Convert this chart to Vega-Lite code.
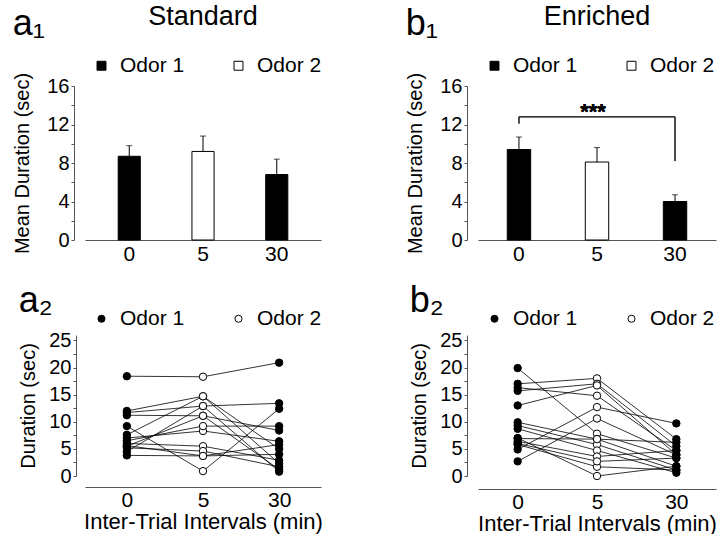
{
  "$schema": "https://vega.github.io/schema/vega-lite/v6.json",
  "background": "white",
  "padding": {"left": 12, "top": 3, "right": 2, "bottom": 0},
  "config": {
    "font": "Liberation Sans",
    "view": {"stroke": null},
    "axis": {"labelFontSize": 20, "titleFontSize": 20, "titleFontWeight": "normal", "labelColor": "black", "titleColor": "black", "domainColor": "#555", "tickColor": "#555", "grid": false, "labelFont": "Liberation Sans", "titleFont": "Liberation Sans", "labelOverlap": false},
    "legend": {"labelFontSize": 21, "labelColor": "black", "labelFont": "Liberation Sans", "orient": "top", "direction": "horizontal", "columnPadding": 43, "labelOffset": 8, "padding": 6, "symbolStrokeColor": "black", "symbolStrokeWidth": 1},
    "title": {"font": "Liberation Sans", "fontWeight": "normal", "color": "black"}
  },
  "datasets": {
    "barStd": [
      {"t": "0", "m": 8.7, "u": 9.8, "o": "Odor 1"},
      {"t": "5", "m": 9.2, "u": 10.8, "o": "Odor 2"},
      {"t": "30", "m": 6.8, "u": 8.4, "o": "Odor 1"}
    ],
    "barEnr": [
      {"t": "0", "m": 9.4, "u": 10.7, "o": "Odor 1"},
      {"t": "5", "m": 8.1, "u": 9.6, "o": "Odor 2"},
      {"t": "30", "m": 4.0, "u": 4.7, "o": "Odor 1"}
    ],
    "std": [
      {"s": 1, "t": "0", "d": 18.4, "o": "Odor 1"}, {"s": 1, "t": "5", "d": 18.3, "o": "Odor 2"}, {"s": 1, "t": "30", "d": 20.9, "o": "Odor 1"},
      {"s": 2, "t": "0", "d": 12.0, "o": "Odor 1"}, {"s": 2, "t": "5", "d": 14.7, "o": "Odor 2"}, {"s": 2, "t": "30", "d": 5.0, "o": "Odor 1"},
      {"s": 3, "t": "0", "d": 11.7, "o": "Odor 1"}, {"s": 3, "t": "5", "d": 12.9, "o": "Odor 2"}, {"s": 3, "t": "30", "d": 13.4, "o": "Odor 1"},
      {"s": 4, "t": "0", "d": 11.2, "o": "Odor 1"}, {"s": 4, "t": "5", "d": 11.1, "o": "Odor 2"}, {"s": 4, "t": "30", "d": 8.4, "o": "Odor 1"},
      {"s": 5, "t": "0", "d": 9.2, "o": "Odor 1"}, {"s": 5, "t": "5", "d": 0.9, "o": "Odor 2"}, {"s": 5, "t": "30", "d": 12.4, "o": "Odor 1"},
      {"s": 6, "t": "0", "d": 7.6, "o": "Odor 1"}, {"s": 6, "t": "5", "d": 14.7, "o": "Odor 2"}, {"s": 6, "t": "30", "d": 2.3, "o": "Odor 1"},
      {"s": 7, "t": "0", "d": 7.0, "o": "Odor 1"}, {"s": 7, "t": "5", "d": 8.3, "o": "Odor 2"}, {"s": 7, "t": "30", "d": 6.4, "o": "Odor 1"},
      {"s": 8, "t": "0", "d": 6.5, "o": "Odor 1"}, {"s": 8, "t": "5", "d": 9.2, "o": "Odor 2"}, {"s": 8, "t": "30", "d": 9.2, "o": "Odor 1"},
      {"s": 9, "t": "0", "d": 6.0, "o": "Odor 1"}, {"s": 9, "t": "5", "d": 5.5, "o": "Odor 2"}, {"s": 9, "t": "30", "d": 2.9, "o": "Odor 1"},
      {"s": 10, "t": "0", "d": 5.6, "o": "Odor 1"}, {"s": 10, "t": "5", "d": 3.7, "o": "Odor 2"}, {"s": 10, "t": "30", "d": 5.8, "o": "Odor 1"},
      {"s": 11, "t": "0", "d": 5.2, "o": "Odor 1"}, {"s": 11, "t": "5", "d": 4.6, "o": "Odor 2"}, {"s": 11, "t": "30", "d": 1.7, "o": "Odor 1"},
      {"s": 12, "t": "0", "d": 4.5, "o": "Odor 1"}, {"s": 12, "t": "5", "d": 12.9, "o": "Odor 2"}, {"s": 12, "t": "30", "d": 0.8, "o": "Odor 1"},
      {"s": 13, "t": "0", "d": 3.8, "o": "Odor 1"}, {"s": 13, "t": "5", "d": 3.7, "o": "Odor 2"}, {"s": 13, "t": "30", "d": 4.0, "o": "Odor 1"},
      {"s": 14, "t": "0", "d": 5.5, "o": "Odor 1"}, {"s": 14, "t": "5", "d": 11.1, "o": "Odor 2"}, {"s": 14, "t": "30", "d": 1.2, "o": "Odor 1"}
    ],
    "enr": [
      {"s": 1, "t": "0", "d": 19.9, "o": "Odor 1"}, {"s": 1, "t": "5", "d": 7.8, "o": "Odor 2"}, {"s": 1, "t": "30", "d": 3.3, "o": "Odor 1"},
      {"s": 2, "t": "0", "d": 17.0, "o": "Odor 1"}, {"s": 2, "t": "5", "d": 18.0, "o": "Odor 2"}, {"s": 2, "t": "30", "d": 6.8, "o": "Odor 1"},
      {"s": 3, "t": "0", "d": 16.3, "o": "Odor 1"}, {"s": 3, "t": "5", "d": 14.8, "o": "Odor 2"}, {"s": 3, "t": "30", "d": 4.7, "o": "Odor 1"},
      {"s": 4, "t": "0", "d": 15.7, "o": "Odor 1"}, {"s": 4, "t": "5", "d": 17.0, "o": "Odor 2"}, {"s": 4, "t": "30", "d": 5.5, "o": "Odor 1"},
      {"s": 5, "t": "0", "d": 13.0, "o": "Odor 1"}, {"s": 5, "t": "5", "d": 16.7, "o": "Odor 2"}, {"s": 5, "t": "30", "d": 3.9, "o": "Odor 1"},
      {"s": 6, "t": "0", "d": 9.9, "o": "Odor 1"}, {"s": 6, "t": "5", "d": 6.8, "o": "Odor 2"}, {"s": 6, "t": "30", "d": 1.8, "o": "Odor 1"},
      {"s": 7, "t": "0", "d": 9.3, "o": "Odor 1"}, {"s": 7, "t": "5", "d": 5.8, "o": "Odor 2"}, {"s": 7, "t": "30", "d": 1.1, "o": "Odor 1"},
      {"s": 8, "t": "0", "d": 8.7, "o": "Odor 1"}, {"s": 8, "t": "5", "d": 4.7, "o": "Odor 2"}, {"s": 8, "t": "30", "d": 0.6, "o": "Odor 1"},
      {"s": 9, "t": "0", "d": 6.9, "o": "Odor 1"}, {"s": 9, "t": "5", "d": 6.8, "o": "Odor 2"}, {"s": 9, "t": "30", "d": 6.2, "o": "Odor 1"},
      {"s": 10, "t": "0", "d": 6.4, "o": "Odor 1"}, {"s": 10, "t": "5", "d": 3.6, "o": "Odor 2"}, {"s": 10, "t": "30", "d": 4.7, "o": "Odor 1"},
      {"s": 11, "t": "0", "d": 5.8, "o": "Odor 1"}, {"s": 11, "t": "5", "d": 1.7, "o": "Odor 2"}, {"s": 11, "t": "30", "d": 1.1, "o": "Odor 1"},
      {"s": 12, "t": "0", "d": 4.9, "o": "Odor 1"}, {"s": 12, "t": "5", "d": 12.7, "o": "Odor 2"}, {"s": 12, "t": "30", "d": 9.7, "o": "Odor 1"},
      {"s": 13, "t": "0", "d": 2.7, "o": "Odor 1"}, {"s": 13, "t": "5", "d": 10.6, "o": "Odor 2"}, {"s": 13, "t": "30", "d": 3.9, "o": "Odor 1"},
      {"s": 14, "t": "0", "d": 7.0, "o": "Odor 1"}, {"s": 14, "t": "5", "d": 0.0, "o": "Odor 2"}, {"s": 14, "t": "30", "d": 1.8, "o": "Odor 1"},
      {"s": 15, "t": "0", "d": 6.0, "o": "Odor 1"}, {"s": 15, "t": "5", "d": 2.7, "o": "Odor 2"}, {"s": 15, "t": "30", "d": 3.3, "o": "Odor 1"}
    ]
  },
  "resolve": {"scale": {"fill": "independent", "x": "independent", "y": "independent"}, "legend": {"fill": "independent"}},
  "spacing": 77,
  "hconcat": [
    {
      "spacing": 19,
      "resolve": {"scale": {"fill": "independent", "x": "independent", "y": "independent"}, "legend": {"fill": "independent"}},
      "vconcat": [
        {
          "title": {"text": "a₁", "fontSize": 36, "anchor": "start", "frame": "bounds", "offset": -40},
          "resolve": {"scale": {"fill": "independent"}, "legend": {"fill": "independent"}},
          "vconcat": [
            {
              "title": {"text": "Standard", "fontSize": 27, "anchor": "middle", "frame": "group", "offset": 18},
              "width": 236, "height": 154,
              "data": {"name": "barStd"},
              "layer": [
                {
                  "mark": {"type": "bar", "stroke": "black", "strokeWidth": 1},
                  "encoding": {
                    "x": {"field": "t", "type": "nominal", "sort": ["0", "5", "30"], "scale": {"paddingInner": 0.7, "paddingOuter": 0.45}, "axis": {"title": null, "labelAngle": 0, "ticks": false, "labelPadding": 3, "labelFontSize": 21}},
                    "y": {"field": "m", "type": "quantitative", "scale": {"domain": [0, 16]}, "axis": {"title": "Mean Duration (sec)", "values": [0, 2, 4, 6, 8, 10, 12, 14, 16], "tickCount": 20, "labelExpr": "datum.value % 4 == 0 ? datum.label : ''", "offset": 11, "tickSize": 3, "titlePadding": 14}},
                    "fill": {"field": "o", "type": "nominal", "scale": {"domain": ["Odor 1", "Odor 2"], "range": ["black", "white"]}, "legend": {"title": null, "symbolType": "square", "symbolSize": 80, "offset": 4}}
                  }
                },
                {
                  "mark": {"type": "rule", "color": "black", "strokeWidth": 1},
                  "encoding": {"x": {"field": "t", "type": "nominal", "sort": ["0", "5", "30"]}, "y": {"field": "m", "type": "quantitative"}, "y2": {"field": "u"}}
                },
                {
                  "mark": {"type": "tick", "color": "black", "orient": "horizontal", "size": 6, "thickness": 1},
                  "encoding": {"x": {"field": "t", "type": "nominal", "sort": ["0", "5", "30"]}, "y": {"field": "u", "type": "quantitative"}}
                }
              ]
            }
          ]
        },
        {
          "title": {"text": "a₂", "fontSize": 36, "anchor": "start", "frame": "bounds", "offset": -18},
          "width": 236, "height": 141,
          "data": {"name": "std"},
          "layer": [
            {
              "mark": {"type": "line", "color": "black", "strokeWidth": 0.8},
              "encoding": {
                "x": {"field": "t", "type": "nominal", "sort": ["0", "5", "30"], "scale": {"type": "point", "padding": 0.55}, "axis": {"title": "Inter-Trial Intervals (min)", "labelAngle": 0, "ticks": false, "offset": 11, "labelFontSize": 21, "titleFontSize": 22, "titlePadding": 1}},
                "y": {"field": "d", "type": "quantitative", "scale": {"domain": [0, 25]}, "axis": {"title": "Duration (sec)", "values": [0, 2.5, 5, 7.5, 10, 12.5, 15, 17.5, 20, 22.5, 25], "tickCount": 20, "labelExpr": "datum.value % 5 == 0 ? datum.label : ''", "offset": 9, "tickSize": 3, "titlePadding": 10}},
                "detail": {"field": "s", "type": "nominal"}
              }
            },
            {
              "mark": {"type": "point", "shape": "circle", "stroke": "black", "strokeWidth": 1, "opacity": 1, "size": 55},
              "encoding": {
                "x": {"field": "t", "type": "nominal", "sort": ["0", "5", "30"]},
                "y": {"field": "d", "type": "quantitative"},
                "fill": {"field": "o", "type": "nominal", "scale": {"domain": ["Odor 1", "Odor 2"], "range": ["black", "white"]}, "legend": {"title": null, "symbolType": "circle", "symbolSize": 50, "offset": 0}}
              }
            }
          ]
        }
      ]
    },
    {
      "spacing": 19,
      "resolve": {"scale": {"fill": "independent", "x": "independent", "y": "independent"}, "legend": {"fill": "independent"}},
      "vconcat": [
        {
          "title": {"text": "b₁", "fontSize": 36, "anchor": "start", "frame": "bounds", "offset": -40},
          "resolve": {"scale": {"fill": "independent"}, "legend": {"fill": "independent"}},
          "vconcat": [
            {
              "title": {"text": "Enriched", "fontSize": 27, "anchor": "middle", "frame": "group", "offset": 18},
              "width": 238, "height": 154,
              "data": {"name": "barEnr"},
              "layer": [
                {
                  "mark": {"type": "bar", "stroke": "black", "strokeWidth": 1},
                  "encoding": {
                    "x": {"field": "t", "type": "nominal", "sort": ["0", "5", "30"], "scale": {"paddingInner": 0.7, "paddingOuter": 0.375}, "axis": {"title": null, "labelAngle": 0, "ticks": false, "labelPadding": 3, "labelFontSize": 21}},
                    "y": {"field": "m", "type": "quantitative", "scale": {"domain": [0, 16]}, "axis": {"title": "Mean Duration (sec)", "values": [0, 2, 4, 6, 8, 10, 12, 14, 16], "tickCount": 20, "labelExpr": "datum.value % 4 == 0 ? datum.label : ''", "offset": 11, "tickSize": 3, "titlePadding": 14}},
                    "fill": {"field": "o", "type": "nominal", "scale": {"domain": ["Odor 1", "Odor 2"], "range": ["black", "white"]}, "legend": {"title": null, "symbolType": "square", "symbolSize": 80, "offset": 4}}
                  }
                },
                {
                  "mark": {"type": "rule", "color": "black", "strokeWidth": 1},
                  "encoding": {"x": {"field": "t", "type": "nominal", "sort": ["0", "5", "30"]}, "y": {"field": "m", "type": "quantitative"}, "y2": {"field": "u"}}
                },
                {
                  "mark": {"type": "tick", "color": "black", "orient": "horizontal", "size": 6, "thickness": 1},
                  "encoding": {"x": {"field": "t", "type": "nominal", "sort": ["0", "5", "30"]}, "y": {"field": "u", "type": "quantitative"}}
                },
                {
                  "mark": {"type": "rule", "color": "#333", "strokeWidth": 1},
                  "encoding": {"x": {"datum": "0"}, "x2": {"datum": "30"}, "y": {"datum": 12.8}}
                },
                {
                  "mark": {"type": "rule", "color": "#333", "strokeWidth": 1},
                  "encoding": {"x": {"datum": "0"}, "y": {"datum": 12.8}, "y2": {"datum": 12.1}}
                },
                {
                  "mark": {"type": "rule", "color": "#333", "strokeWidth": 1},
                  "encoding": {"x": {"datum": "30"}, "y": {"datum": 12.8}, "y2": {"datum": 8.2}}
                },
                {
                  "mark": {"type": "text", "text": "***", "fontSize": 22, "fontWeight": "bold", "baseline": "alphabetic", "color": "black", "dx": -4},
                  "encoding": {"x": {"datum": "5"}, "y": {"datum": 12.55}}
                }
              ]
            }
          ]
        },
        {
          "title": {"text": "b₂", "fontSize": 36, "anchor": "start", "frame": "bounds", "offset": -18},
          "width": 238, "height": 141,
          "data": {"name": "enr"},
          "layer": [
            {
              "mark": {"type": "line", "color": "black", "strokeWidth": 0.8},
              "encoding": {
                "x": {"field": "t", "type": "nominal", "sort": ["0", "5", "30"], "scale": {"type": "point", "padding": 0.5}, "axis": {"title": "Inter-Trial Intervals (min)", "labelAngle": 0, "ticks": false, "offset": 13, "labelFontSize": 21, "titleFontSize": 22, "titlePadding": 1}},
                "y": {"field": "d", "type": "quantitative", "scale": {"domain": [0, 25]}, "axis": {"title": "Duration (sec)", "values": [0, 2.5, 5, 7.5, 10, 12.5, 15, 17.5, 20, 22.5, 25], "tickCount": 20, "labelExpr": "datum.value % 5 == 0 ? datum.label : ''", "offset": 11, "tickSize": 3, "titlePadding": 10}},
                "detail": {"field": "s", "type": "nominal"}
              }
            },
            {
              "mark": {"type": "point", "shape": "circle", "stroke": "black", "strokeWidth": 1, "opacity": 1, "size": 55},
              "encoding": {
                "x": {"field": "t", "type": "nominal", "sort": ["0", "5", "30"]},
                "y": {"field": "d", "type": "quantitative"},
                "fill": {"field": "o", "type": "nominal", "scale": {"domain": ["Odor 1", "Odor 2"], "range": ["black", "white"]}, "legend": {"title": null, "symbolType": "circle", "symbolSize": 50, "offset": 0}}
              }
            }
          ]
        }
      ]
    }
  ]
}
